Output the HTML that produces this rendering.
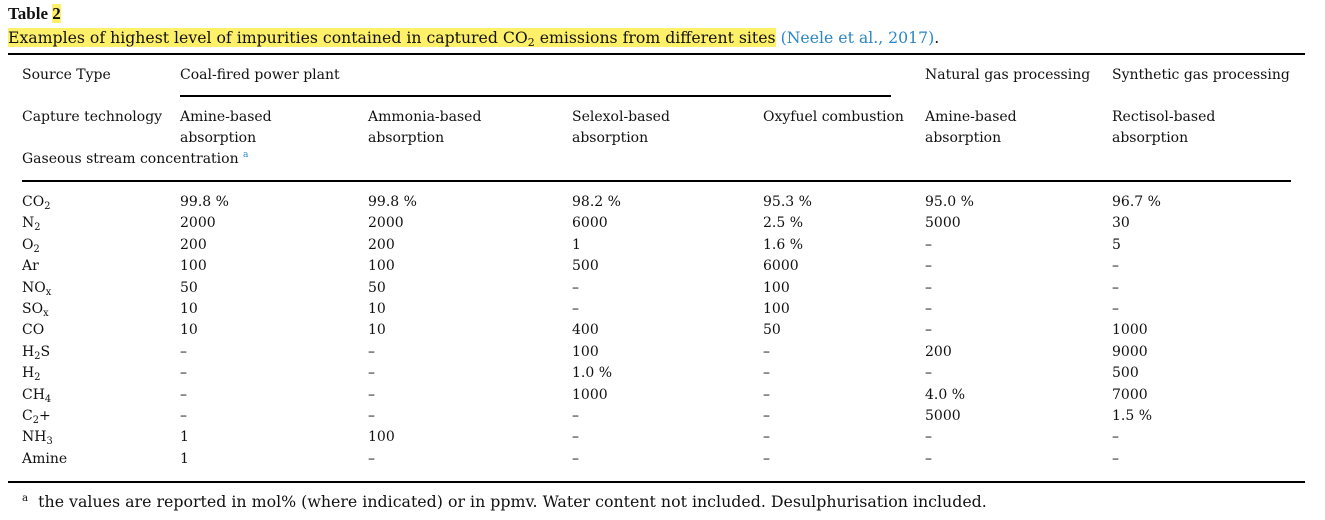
<!DOCTYPE html>
<html><head><meta charset="utf-8"><style>
body{margin:0;width:1325px;height:520px;background:#fff;position:relative;overflow:hidden;font-family:"DejaVu Serif",serif;color:#111;font-size:14px}
.t{position:absolute;white-space:nowrap;line-height:18px}
.r{position:absolute;background:#000}
sub{font-size:70%;vertical-align:-3px;line-height:0}
sup{font-size:65%;vertical-align:6px;line-height:0}
.hl{background:#fff06a}
a{color:#2a86c4;text-decoration:none}
</style></head><body>
<div class="t" style="left:8px;top:5px;font-weight:bold;font-size:17px;font-family:'Liberation Serif',serif">Table <span class="hl">2</span></div>
<div class="t" style="left:8px;top:29px;font-size:15.7px"><span class="hl">Examples of highest level of impurities contained in captured CO<sub>2</sub> emissions from different sites</span> <a>(Neele et al., 2017)</a>.</div>
<div class="r" style="left:8px;top:53px;width:1297px;height:2px"></div>
<div class="r" style="left:180px;top:95px;width:711px;height:2px"></div>
<div class="r" style="left:22px;top:180px;width:1269px;height:2px"></div>
<div class="r" style="left:8px;top:481px;width:1297px;height:2px"></div>
<div id="tbl"></div>
<div class="t" style="left:22px;top:493px;font-size:15.8px"><sup>a</sup>&nbsp; the values are reported in mol% (where indicated) or in ppmv. Water content not included. Desulphurisation included.</div>
<script>
const cols=[22,180,368,572,763,925,1112];
const headers=[
 [66,["Source Type","Coal-fired power plant","","","","Natural gas processing","Synthetic gas processing"]],
 [108,["Capture technology","Amine-based","Ammonia-based","Selexol-based","Oxyfuel combustion","Amine-based","Rectisol-based"]],
 [129,["","absorption","absorption","absorption","","absorption","absorption"]],
 [150,['Gaseous stream concentration <sup style="color:#2a86c4">a</sup>',"","","","","",""]]
];
const gases=["CO<sub>2</sub>","N<sub>2</sub>","O<sub>2</sub>","Ar","NO<sub>x</sub>","SO<sub>x</sub>","CO","H<sub>2</sub>S","H<sub>2</sub>","CH<sub>4</sub>","C<sub>2</sub>+","NH<sub>3</sub>","Amine"];
const amine=["99.8 %","2000","200","100","50","10","10","–","–","–","–","1","1"];
const ammonia=["99.8 %","2000","200","100","50","10","10","–","–","–","–","100","–"];
const selexol=["98.2 %","6000","1","500","–","–","400","100","1.0 %","1000","–","–","–"];
const oxyfuel=["95.3 %","2.5 %","1.6 %","6000","100","100","50","–","–","–","–","–","–"];
const natgas=["95.0 %","5000","–","–","–","–","–","200","–","4.0 %","5000","–","–"];
const syngas=["96.7 %","30","5","–","–","–","1000","9000","500","7000","1.5 %","–","–"];
const tbl=document.getElementById('tbl');
function add(x,y,html,name){const d=document.createElement('div');d.className='t';d.style.left=x+'px';d.style.top=y+'px';d.innerHTML=html;


tbl.appendChild(d);}
headers.forEach(([y,cells],i)=>cells.forEach((c,j)=>{if(c)add(cols[j],y,c,'header-cell');}));
const series=[gases,amine,ammonia,selexol,oxyfuel,natgas,syngas];
gases.forEach((g,i)=>{const y=193+i*21.4;series.forEach((s,j)=>add(cols[j],y,s[i],j==0?'gas-label':'value-cell'));});
</script>
</body></html>
